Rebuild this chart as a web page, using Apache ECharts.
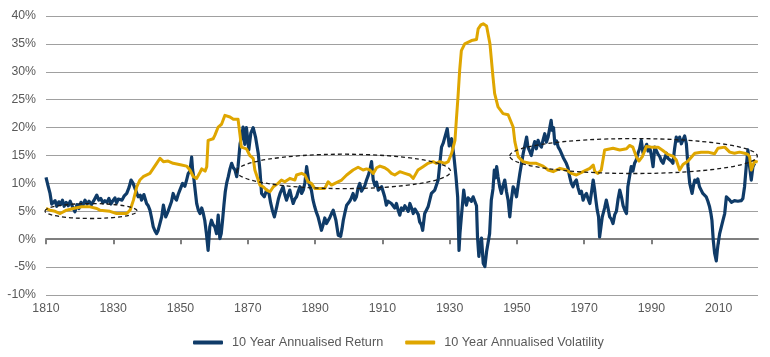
<!DOCTYPE html>
<html>
<head>
<meta charset="utf-8">
<script src="https://cdn.jsdelivr.net/npm/echarts@6/dist/echarts.min.js"></script>
<style>
html,body{margin:0;padding:0;background:#fff;}
#c{width:770px;height:357px;}
</style>
</head>
<body>
<div id="c"></div>
<script>
// Tick years for the x axis
var tickYears = [1810, 1830, 1850, 1870, 1890, 1910, 1930, 1950, 1970, 1990, 2010];
// Series names
var seriesNames = ['10 Year Annualised Return', '10 Year Annualised Volatility'];

// 10 Year Annualised Return: [year, %]
var returnYears = [1810.0,1810.6,1811.2,1811.7,1812.2,1812.7,1813.2,1813.8,1814.3,1814.9,1815.4,1816.0,1816.6,1817.2,1817.8,1818.6,1819.2,1819.8,1820.4,1821.0,1821.6,1822.2,1822.8,1823.5,1824.2,1825.1,1825.7,1826.3,1826.9,1827.5,1828.1,1828.7,1829.3,1829.9,1830.5,1831.0,1831.5,1832.0,1832.6,1833.2,1834.0,1834.7,1835.3,1835.9,1836.4,1836.9,1837.4,1838.0,1838.4,1839.1,1839.9,1840.4,1840.9,1841.4,1841.9,1842.4,1842.9,1843.3,1843.7,1844.4,1844.9,1845.6,1846.3,1847.3,1847.8,1848.3,1848.8,1849.3,1849.8,1850.6,1851.3,1851.8,1852.3,1852.8,1853.3,1853.6,1853.9,1854.8,1855.3,1855.8,1856.3,1856.7,1857.2,1857.7,1858.2,1858.7,1859.2,1859.7,1860.2,1860.7,1861.2,1861.7,1862.1,1862.5,1862.9,1863.3,1863.7,1864.2,1864.7,1865.2,1865.7,1866.2,1866.7,1867.1,1867.7,1868.2,1868.6,1869.1,1869.6,1870.3,1870.9,1871.6,1872.3,1873.1,1873.6,1874.1,1874.9,1875.6,1876.3,1876.8,1877.3,1877.9,1878.6,1879.1,1879.6,1880.5,1881.0,1881.5,1882.0,1882.5,1883.0,1883.5,1884.0,1884.5,1885.0,1885.5,1886.0,1886.5,1887.0,1887.5,1888.2,1888.9,1889.4,1889.9,1890.4,1890.9,1891.4,1891.9,1892.4,1892.9,1893.4,1893.9,1894.4,1894.9,1895.4,1896.2,1896.9,1897.6,1898.0,1898.4,1898.9,1899.4,1900.3,1900.8,1901.3,1901.8,1902.3,1902.8,1903.3,1903.8,1904.3,1904.8,1905.3,1905.8,1906.3,1906.8,1907.3,1907.8,1908.3,1908.8,1909.3,1909.8,1910.3,1910.7,1911.2,1911.7,1912.2,1912.7,1913.2,1913.7,1914.2,1914.7,1915.2,1915.7,1916.2,1916.7,1917.2,1917.7,1918.2,1918.7,1919.2,1919.7,1920.2,1920.7,1921.1,1921.6,1922.0,1922.6,1923.1,1923.6,1924.1,1924.6,1925.1,1925.6,1926.1,1926.6,1927.1,1927.6,1928.1,1928.6,1929.3,1929.9,1930.6,1931.3,1931.9,1932.4,1932.8,1933.1,1933.5,1934.2,1934.6,1935.0,1935.5,1936.0,1936.5,1937.0,1937.5,1938.0,1938.3,1938.7,1939.0,1939.5,1940.0,1940.5,1941.0,1941.4,1941.9,1942.4,1942.9,1943.3,1943.6,1944.0,1944.4,1944.9,1945.4,1945.9,1946.4,1946.9,1947.4,1947.9,1948.4,1948.9,1949.4,1949.9,1950.4,1950.9,1951.4,1951.9,1952.4,1952.9,1953.3,1953.8,1954.3,1954.8,1955.3,1955.8,1956.3,1956.8,1957.3,1957.8,1958.3,1958.8,1959.3,1959.8,1960.2,1960.5,1960.9,1961.3,1961.8,1962.3,1962.8,1963.3,1963.8,1964.2,1964.7,1965.2,1965.7,1966.2,1966.7,1967.2,1967.7,1968.2,1968.7,1969.2,1969.7,1970.2,1970.7,1971.2,1971.7,1972.2,1972.7,1973.1,1973.5,1973.9,1974.3,1974.6,1975.0,1975.4,1976.1,1976.6,1977.1,1977.6,1978.1,1978.6,1979.1,1979.6,1980.1,1980.6,1981.1,1981.6,1982.1,1982.6,1983.0,1983.5,1984.0,1984.5,1985.0,1985.5,1986.0,1986.5,1987.0,1987.5,1988.2,1988.6,1989.0,1989.5,1990.0,1990.5,1991.0,1991.5,1992.0,1992.5,1993.0,1993.5,1994.0,1994.5,1994.9,1995.4,1995.9,1996.4,1996.9,1997.4,1997.9,1998.4,1998.9,1999.4,1999.9,2000.4,2000.9,2001.4,2002.1,2002.5,2002.9,2003.4,2003.8,2004.3,2004.8,2005.3,2005.8,2006.3,2006.8,2007.3,2007.7,2008.0,2008.4,2008.8,2009.3,2009.6,2009.8,2010.1,2010.3,2010.8,2011.3,2011.8,2012.3,2012.8,2013.3,2013.8,2014.2,2014.7,2015.2,2015.7,2016.2,2016.7,2017.2,2017.7,2018.2,2018.7,2019.2,2019.7,2020.2,2020.7,2021.2,2021.6];
var returnValues = [11.1,9.6,8.2,6.3,6.1,6.9,5.9,6.7,6.2,7.0,5.9,6.6,6.0,6.8,5.9,4.9,6.2,5.5,6.6,6.1,7.0,6.3,6.8,6.2,6.9,7.9,7.0,7.3,6.5,6.9,6.6,7.3,6.3,6.9,7.4,6.5,7.2,7.5,7.0,7.7,8.2,9.3,10.6,10.0,9.7,8.4,7.6,7.9,7.0,8.0,6.4,6.0,5.2,3.8,2.2,1.5,1.0,1.5,1.8,4.0,6.1,4.0,5.0,6.7,8.2,7.4,7.0,8.0,8.8,10.0,9.5,10.6,11.8,12.2,14.7,12.4,11.2,6.4,5.2,4.6,5.6,4.8,3.4,1.0,-2.0,2.2,3.4,2.6,2.2,1.0,4.3,0.1,1.0,3.4,6.1,8.5,10.0,11.2,12.6,13.6,12.8,12.4,11.2,13.0,17.1,18.4,20.1,17.0,20.0,16.0,19.0,20.0,18.3,15.4,12.4,8.2,7.6,8.8,8.2,6.5,5.2,4.0,5.8,7.2,8.2,9.4,8.0,7.0,7.9,8.8,7.5,6.4,7.2,7.6,8.6,9.4,8.2,8.8,10.2,13.0,10.0,8.8,7.0,5.8,4.8,4.0,2.8,1.6,2.6,3.8,2.8,2.5,3.9,4.6,5.2,3.4,0.7,0.5,1.8,3.4,4.8,6.1,6.8,7.4,8.2,7.0,7.6,9.2,10.0,8.6,8.8,9.6,10.6,11.4,12.4,13.9,10.6,9.6,10.2,8.8,9.0,9.4,8.4,7.6,6.1,6.8,7.0,6.4,6.1,5.6,6.4,5.2,4.3,5.6,5.2,6.0,5.8,5.0,6.4,5.6,4.6,5.4,5.2,4.4,3.1,2.6,1.6,4.6,5.2,5.8,7.0,8.2,8.0,8.8,9.0,10.6,13.6,16.5,17.2,18.3,19.8,16.7,18.0,14.8,11.2,7.6,-2.0,1.2,4.0,8.8,7.0,6.1,7.4,7.6,6.8,7.6,6.8,6.0,0.4,-3.1,-1.5,0.2,-4.3,-4.9,-2.2,-2.0,1.0,7.0,9.0,12.4,11.0,13.0,11.2,9.4,8.2,9.6,10.6,8.6,7.0,4.0,7.2,9.4,8.8,7.6,9.8,11.8,13.6,15.4,16.8,18.3,16.5,15.8,15.0,16.4,17.5,16.2,17.7,16.9,16.5,17.8,18.9,17.4,18.3,20.0,21.3,19.5,20.0,17.1,17.6,16.5,16.0,15.9,14.6,14.8,13.6,12.8,11.2,10.0,9.4,10.2,10.6,9.2,8.2,8.6,7.0,7.8,8.2,7.2,6.4,8.4,10.6,9.0,7.0,5.2,4.0,0.4,2.2,4.0,5.6,7.0,5.6,4.0,3.6,2.8,4.4,5.0,7.2,8.8,7.6,6.0,5.2,4.6,9.4,11.2,13.0,12.2,13.6,14.2,15.4,16.2,17.7,15.5,16.4,17.0,15.8,16.5,15.0,13.0,16.5,16.5,15.2,14.8,14.0,13.6,14.6,15.4,14.5,14.8,14.0,13.6,16.2,18.3,17.6,18.3,17.1,17.8,18.5,17.1,13.0,10.0,8.2,9.6,10.6,10.2,10.8,9.4,8.8,8.2,7.9,7.6,6.8,5.8,4.6,3.4,-0.2,-2.5,-3.9,-2.0,-1.0,-1.1,1.0,2.2,3.4,4.6,7.6,7.3,7.0,6.6,6.4,6.9,7.0,6.8,6.6,6.9,7.3,9.4,13.0,16.0,13.0,10.6,13.0,13.6];

// 10 Year Annualised Volatility: [year, %]
var volYears = [1810.0,1811.2,1812.7,1814.2,1816.1,1818.1,1820.6,1823.1,1825.1,1826.0,1829.0,1831.0,1834.0,1835.0,1836.0,1837.0,1837.9,1838.9,1840.9,1841.9,1842.9,1843.9,1844.9,1846.3,1847.8,1850.3,1851.8,1852.8,1853.8,1854.8,1855.8,1856.3,1857.3,1857.8,1858.2,1859.7,1860.2,1861.2,1862.2,1863.2,1864.7,1865.7,1867.1,1867.7,1868.1,1869.6,1870.6,1871.6,1872.1,1872.6,1873.6,1874.6,1875.6,1876.6,1877.6,1879.0,1880.0,1881.0,1882.5,1884.0,1884.5,1886.0,1887.0,1887.9,1888.9,1889.9,1892.9,1893.9,1894.9,1895.9,1896.4,1897.9,1899.4,1901.3,1902.8,1904.3,1905.3,1906.3,1907.3,1908.3,1909.3,1910.7,1911.7,1912.7,1913.7,1915.2,1916.7,1918.2,1919.2,1919.7,1920.6,1922.1,1923.6,1925.1,1926.1,1927.1,1928.6,1929.6,1930.6,1931.6,1932.0,1932.5,1933.0,1933.5,1934.5,1936.5,1938.0,1938.5,1939.3,1940.0,1941.0,1942.0,1942.9,1943.4,1944.4,1945.9,1947.4,1947.9,1948.9,1949.4,1950.4,1951.8,1953.8,1955.8,1957.8,1959.3,1960.8,1962.8,1964.7,1966.2,1967.7,1969.7,1971.7,1972.7,1973.2,1974.1,1975.1,1976.1,1978.6,1980.6,1982.6,1983.5,1984.5,1985.5,1986.3,1987.3,1988.5,1990.0,1992.0,1993.4,1994.9,1996.4,1997.4,1998.4,1999.4,2000.9,2002.9,2004.8,2006.8,2008.8,2009.8,2011.8,2013.3,2014.7,2016.2,2017.7,2018.7,2019.2,2019.7,2020.2,2020.7,2021.6];
var volValues = [5.5,5.2,5.0,4.6,5.2,5.5,5.8,5.8,5.5,5.2,5.0,4.6,4.6,5.2,7.0,9.4,10.6,11.2,11.8,12.7,13.6,14.5,13.9,14.0,13.6,13.3,13.1,12.4,11.2,10.9,12.0,12.6,12.2,13.0,17.7,18.0,18.6,20.1,20.6,22.2,21.9,21.5,21.5,18.6,16.5,16.2,15.0,14.5,12.4,11.5,9.7,9.4,8.8,8.5,9.4,10.0,10.6,10.3,10.9,10.6,11.5,11.8,11.5,10.3,10.0,9.1,9.1,10.3,9.7,10.0,9.7,10.6,11.5,12.4,12.9,12.4,12.6,12.4,11.8,12.8,13.1,12.8,12.4,11.8,11.5,12.1,11.8,11.5,10.9,11.2,12.4,13.0,13.6,13.9,13.6,13.9,13.6,13.9,15.4,17.7,21.3,25.5,30.3,33.8,35.0,35.6,35.8,37.7,38.4,38.6,38.2,35.0,29.1,26.1,23.7,22.5,22.3,22.2,20.1,17.5,14.8,13.9,13.6,13.6,13.1,12.4,12.1,12.7,12.4,11.8,11.5,12.1,12.7,13.3,12.1,11.8,12.4,16.0,16.3,16.0,16.2,16.8,16.5,14.8,14.0,14.8,16.6,16.5,16.5,15.9,15.2,14.9,14.2,12.4,13.4,14.0,15.4,15.6,15.6,15.3,16.3,16.5,15.6,15.4,15.6,15.4,15.2,14.8,12.4,13.2,14.0,13.8];

// Dashed ellipse annotations: centre year, centre %, half-width (years), half-height (%)
var ellipseCenterYears = [1823.4, 1898.5, 1984.7];
var ellipseCenterValues = [5.05, 12.15, 14.9];
var ellipseHalfWidths = [13.7, 31.8, 36.8];
var ellipseHalfHeights = [1.34, 3.08, 3.13];

var yMin = -10, yMax = 40, yStep = 5;
var xMin = 1810, xMax = 2021.7;

function zip(a, b) { return a.map(function (v, i) { return [v, b[i]]; }); }

var chart = echarts.init(document.getElementById('c'), null, { renderer: 'canvas' });
var fontFam = '"Liberation Sans", Arial, Helvetica, sans-serif';
var textColor = '#595959';

chart.setOption({
  animation: false,
  backgroundColor: '#ffffff',
  textStyle: { fontFamily: fontFam },
  grid: { left: 46, right: 12, top: 16, bottom: 62, containLabel: false },
  legend: {
    data: seriesNames,
    top: 331,
    left: 188,
    icon: 'roundRect',
    itemWidth: 30,
    itemHeight: 4,
    itemGap: 22,
    textStyle: { color: textColor, fontSize: 12.7, fontFamily: fontFam, padding: [0, 0, 0, 4] }
  },
  xAxis: [{
    type: 'value', min: xMin, max: xMax, position: 'bottom',
    axisLine: { show: false, onZero: false },
    axisTick: { show: false },
    splitLine: { show: false },
    axisLabel: { customValues: tickYears, color: textColor, fontSize: 12.3, margin: 8, fontFamily: fontFam,
      formatter: function (v) { return String(Math.round(v)); } }
  }, {
    type: 'value', min: xMin, max: xMax, position: 'bottom',
    axisLine: { show: true, onZero: true, lineStyle: { color: '#7f7f7f', width: 2 } },
    axisTick: { show: true, customValues: tickYears, length: 5, lineStyle: { color: '#7f7f7f', width: 2 } },
    axisLabel: { show: false },
    splitLine: { show: false }
  }],
  yAxis: {
    type: 'value', min: yMin, max: yMax, interval: yStep,
    axisLine: { show: false },
    axisTick: { show: false },
    axisLabel: { formatter: '{value}%', color: textColor, fontSize: 12.3, margin: 10, fontFamily: fontFam },
    splitLine: { lineStyle: { color: '#a0a0a0', width: 1 } }
  },
  series: [{
    name: seriesNames[0], type: 'line', xAxisIndex: 0,
    data: zip(returnYears, returnValues),
    showSymbol: false, symbol: 'none',
    lineStyle: { color: '#0f3b68', width: 3.2, join: 'round' },
    itemStyle: { color: '#0f3b68' },
    z: 2
  }, {
    name: seriesNames[1], type: 'line', xAxisIndex: 0,
    data: zip(volYears, volValues),
    showSymbol: false, symbol: 'none',
    lineStyle: { color: '#dfa600', width: 3, join: 'round' },
    itemStyle: { color: '#dfa600' },
    z: 3
  }]
});

function drawEllipses() {
  var els = ellipseCenterYears.map(function (yr, i) {
    var c = chart.convertToPixel({ gridIndex: 0 }, [yr, ellipseCenterValues[i]]);
    var e = chart.convertToPixel({ gridIndex: 0 }, [yr + ellipseHalfWidths[i], ellipseCenterValues[i] + ellipseHalfHeights[i]]);
    return {
      type: 'ellipse', silent: true, z: 10,
      shape: { cx: c[0], cy: c[1], rx: Math.abs(e[0] - c[0]), ry: Math.abs(c[1] - e[1]) },
      style: { fill: null, stroke: '#1a1a1a', lineWidth: 1.3, lineDash: [4, 3] }
    };
  });
  chart.setOption({ graphic: els });
}
drawEllipses();
</script>
</body>
</html>
